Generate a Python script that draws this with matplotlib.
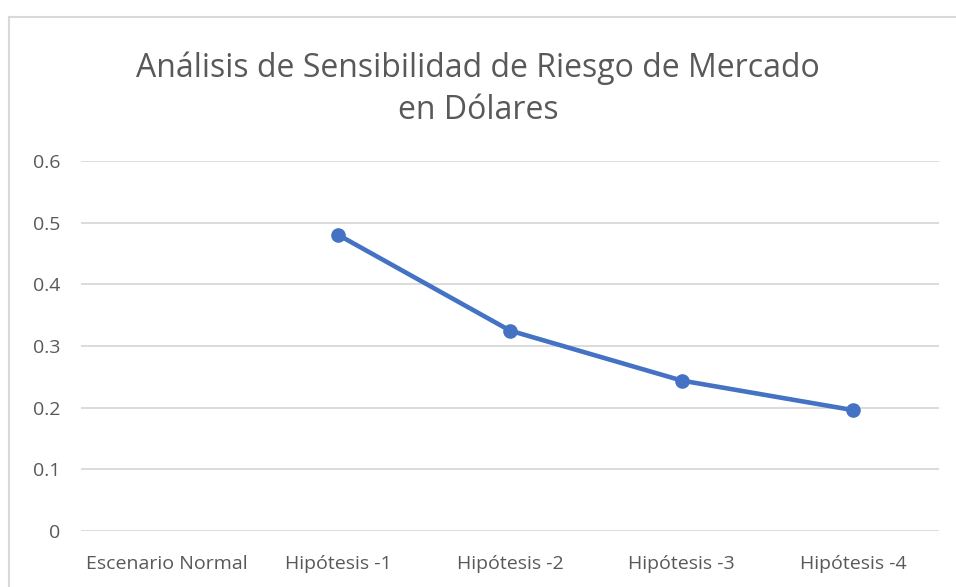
import numpy as np
import matplotlib
matplotlib.use("Agg")
import matplotlib.pyplot as plt
from matplotlib.lines import Line2D

# data
categories = ["Escenario Normal", "Hipótesis -1", "Hipótesis -2", "Hipótesis -3", "Hipótesis -4"]
values = [np.nan, 0.48, 0.325, 0.244, 0.196]
yticks = [0, 0.1, 0.2, 0.3, 0.4, 0.5, 0.6]
ytick_labels = ["0", "0.1", "0.2", "0.3", "0.4", "0.5", "0.6"]
title = "Análisis de Sensibilidad de Riesgo de Mercado\nen Dólares"

plt.rcParams['font.family'] = ['Open Sans', 'DejaVu Sans']

fig = plt.figure(figsize=(9.56, 5.87), dpi=100)
ax = fig.add_axes([81/956, 1-531/587, (939-81)/956, (531-161)/587])

x = np.arange(len(categories))
ax.plot(x, values, color="#4472C4", lw=3.3, marker="o", ms=9.5,
        solid_capstyle="round")

ax.set_xlim(-0.5, len(categories)-0.5)
ax.set_ylim(0, 0.6)
ax.set_yticks(yticks)
ax.set_yticklabels(ytick_labels)
ax.set_xticks(x)
ax.set_xticklabels(categories)
ax.grid(axis="y", color="#D9D9D9", lw=1.3)
ax.set_axisbelow(True)
for s in ax.spines.values():
    s.set_visible(False)
ax.tick_params(axis="both", length=0, labelsize=14, colors="#595959")
ax.tick_params(axis="y", pad=15)
ax.tick_params(axis="x", pad=17)

fig.text(0.5, 1-89/587, title, ha="center", va="center", fontsize=23,
         color="#595959", linespacing=1.35)

# chart border (left and top visible)
fig.add_artist(Line2D([9/956, 9/956], [0, 1-17/587], transform=fig.transFigure,
                      color="#D9D9D9", lw=1.5))
fig.add_artist(Line2D([9/956, 1], [1-17/587, 1-17/587], transform=fig.transFigure,
                      color="#D9D9D9", lw=1.5))

fig.savefig("out.png", dpi=100)
